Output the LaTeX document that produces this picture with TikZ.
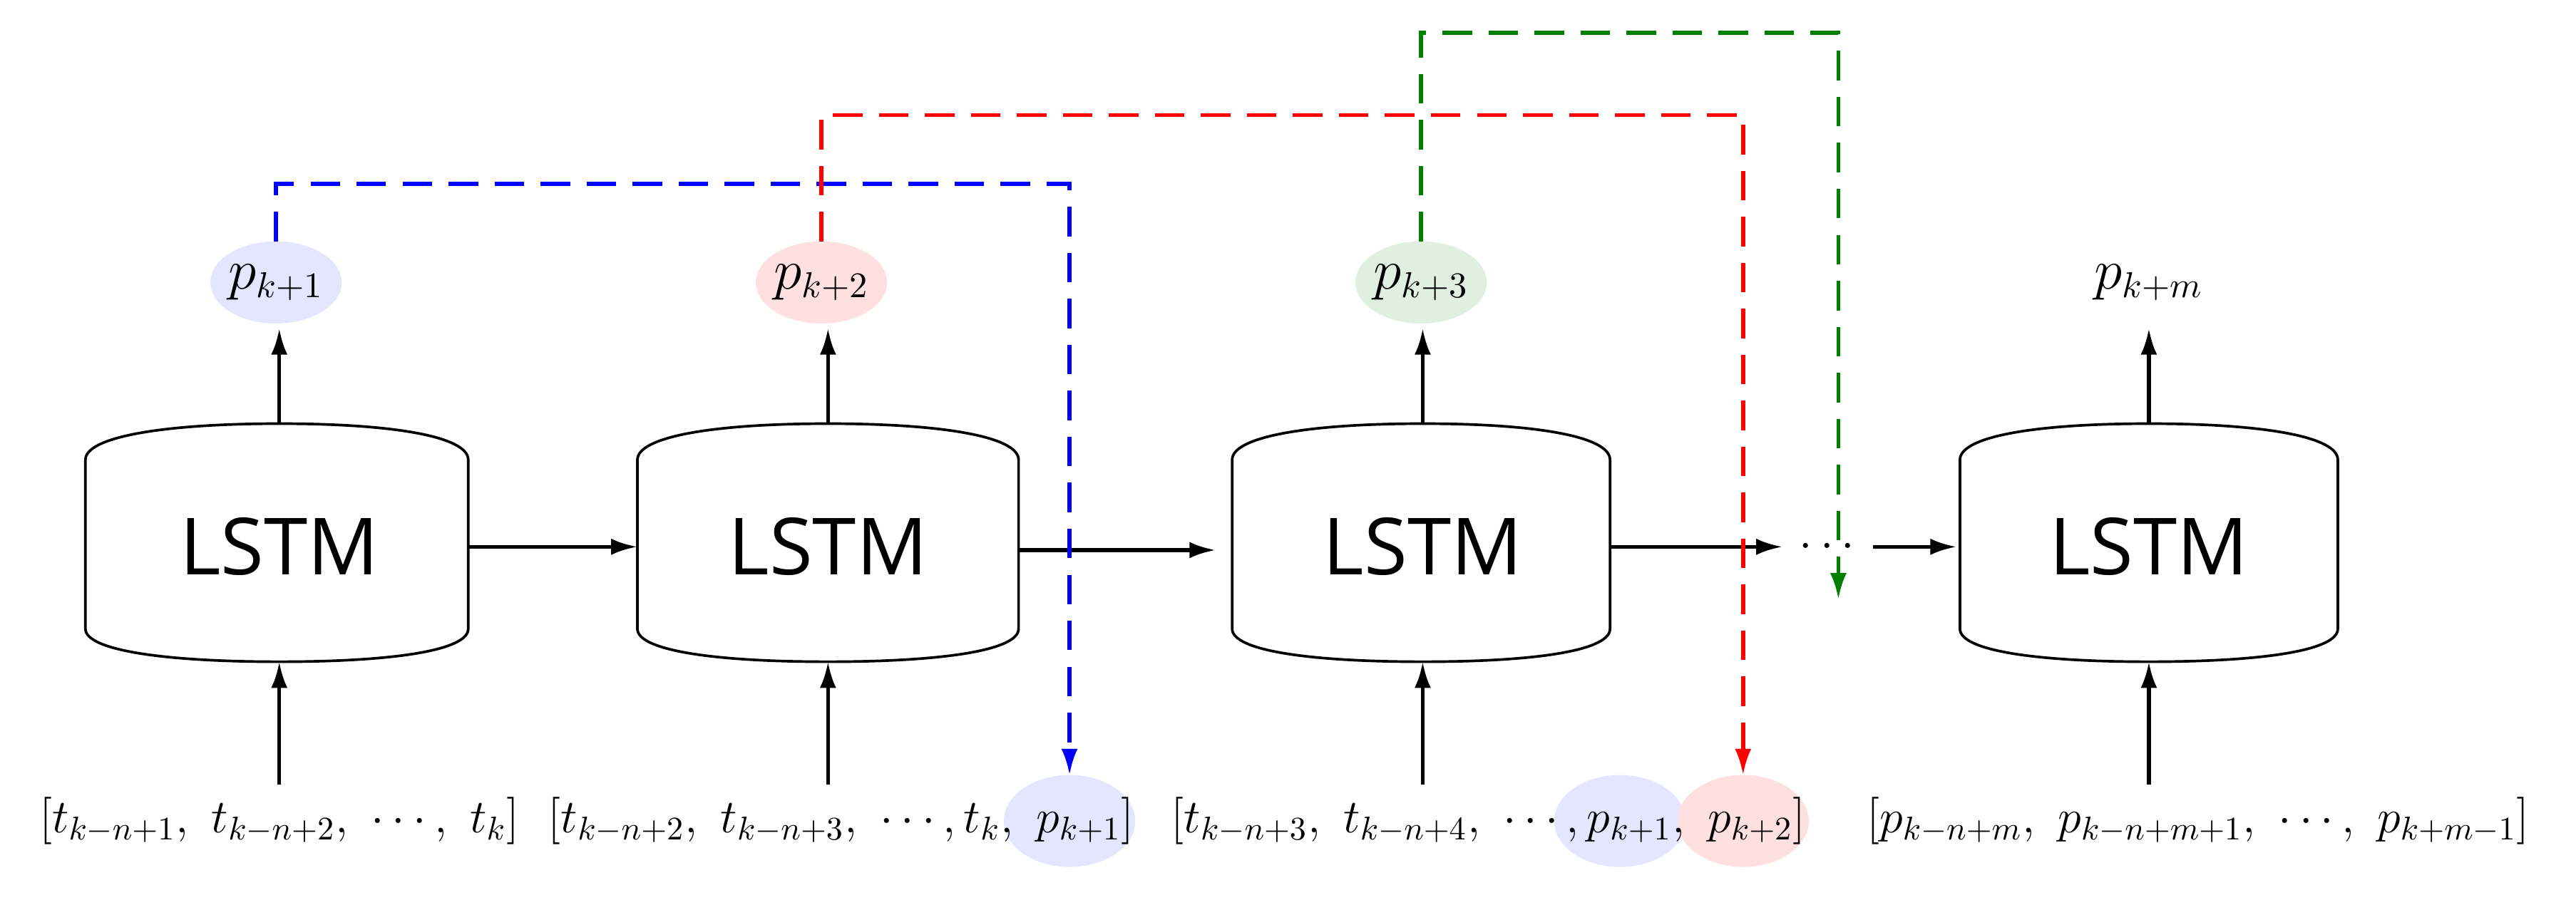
\documentclass[tikz,border=0pt]{standalone}
\usepackage{fontspec}
\newfontfamily\lsf{Open Sans}
\usetikzlibrary{arrows.meta,shapes.geometric}
\begin{document}
\begin{tikzpicture}[x=0.5pt,y=-0.5pt,
  ar/.style={-{Latex[length=8pt,width=5pt]},line width=1.2pt},
  dsh/.style={dashed,dash pattern=on 9pt off 5pt,line width=1.2pt,-{Latex[length=8pt,width=5pt]}},
  lbl/.style={font=\fontsize{16}{20}\selectfont,inner sep=1pt},
  inl/.style={font=\fontsize{14}{18}\selectfont,inner sep=1pt},
  lt/.style={font=\lsf\fontsize{24}{26}\selectfont}]
\useasboundingbox (0,0) rectangle (1568,548);
\def\lstm#1#2#3#4{%
  \draw[line width=0.8pt] (#1,280) .. controls (#1,266) and (#3-70,258) .. (#3,258)
    .. controls (#3+70,258) and (#2,266) .. (#2,280) -- (#2,383)
    .. controls (#2,396) and (#3+70,403) .. (#3,403)
    .. controls (#3-70,403) and (#1,396) .. (#1,383) -- cycle;
  \node[lt] (#4) at (#3,333) {LSTM};
  \coordinate (#4t) at (#3,258);
  \coordinate (#4b) at (#3,403);}
\lstm{52}{285}{170}{L1}
\lstm{388}{620}{504}{L2}
\lstm{750}{980}{866}{L3}
\lstm{1193}{1423}{1308}{L4}
% output bubbles
\fill[blue!10] (168,172) ellipse (40 and 25);
\fill[red!12] (500,172) ellipse (40 and 25);
\fill[green!50!black!12] (865,172) ellipse (40 and 25);
\node[lbl] (o1) at (168,172) {$p_{k+1}$};
\node[lbl] (o2) at (500,172) {$p_{k+2}$};
\node[lbl] (o3) at (865,172) {$p_{k+3}$};
\node[lbl] (o4) at (1308,172) {$p_{k+m}$};
\coordinate (a1) at (170,200); \coordinate (a2) at (504,200);
\coordinate (a3) at (866,200); \coordinate (a4) at (1308,200);
\draw[ar] (L1t) -- (a1); \draw[ar] (L2t) -- (a2);
\draw[ar] (L3t) -- (a3); \draw[ar] (L4t) -- (a4);
% input bubbles
\fill[blue!10] (651,500) ellipse (40 and 28);
\fill[blue!10] (986,500) ellipse (40 and 28);
\fill[red!12] (1061,500) ellipse (40 and 28);
\node[inl] (i1) at (170,500) {$[t_{k-n+1},\ t_{k-n+2},\ \cdots,\ t_k]$};
\node[inl] (i2) at (512,500) {$[t_{k-n+2},\ t_{k-n+3},\ \cdots, t_k,\ p_{k+1}]$};
\node[inl] (i3) at (906,500) {$[t_{k-n+3},\ t_{k-n+4},\ \cdots, p_{k+1},\ p_{k+2}]$};
\node[inl] (i4) at (1338,500) {$[p_{k-n+m},\ p_{k-n+m+1},\ \cdots,\ p_{k+m-1}]$};
\coordinate (b1) at (170,478); \coordinate (b2) at (504,478);
\coordinate (b3) at (866,478); \coordinate (b4) at (1308,478);
\draw[ar] (b1) -- (L1b); \draw[ar] (b2) -- (L2b);
\draw[ar] (b3) -- (L3b); \draw[ar] (b4) -- (L4b);
% horizontal
\coordinate (h3) at (1085,333);
\node[inl] (dots) at (1112,333) {$\cdots$};
\coordinate (p1) at (285,333); \coordinate (q1) at (388,333);
\coordinate (p2) at (620,335); \coordinate (q2) at (740,335);
\coordinate (p3) at (980,333);
\coordinate (p4) at (1140,333); \coordinate (q4) at (1191,333);
\draw[ar] (p1) -- (q1);
\draw[ar] (p2) -- (q2);
\draw[ar] (p3) -- (h3);
\draw[ar] (p4) -- (q4);
% dashed feedback
\coordinate (s1) at (168,147); \coordinate (s2) at (500,147); \coordinate (s3) at (865,147);
\coordinate (e1) at (651,472); \coordinate (e2) at (1061,472); \coordinate (e3) at (1119,365);
\draw[dsh,blue] (s1) -- (168,112) -| (e1);
\draw[dsh,red] (s2) -- (500,70) -| (e2);
\draw[dsh,green!50!black] (s3) -- (865,20) -| (e3);
\end{tikzpicture}
\end{document}
